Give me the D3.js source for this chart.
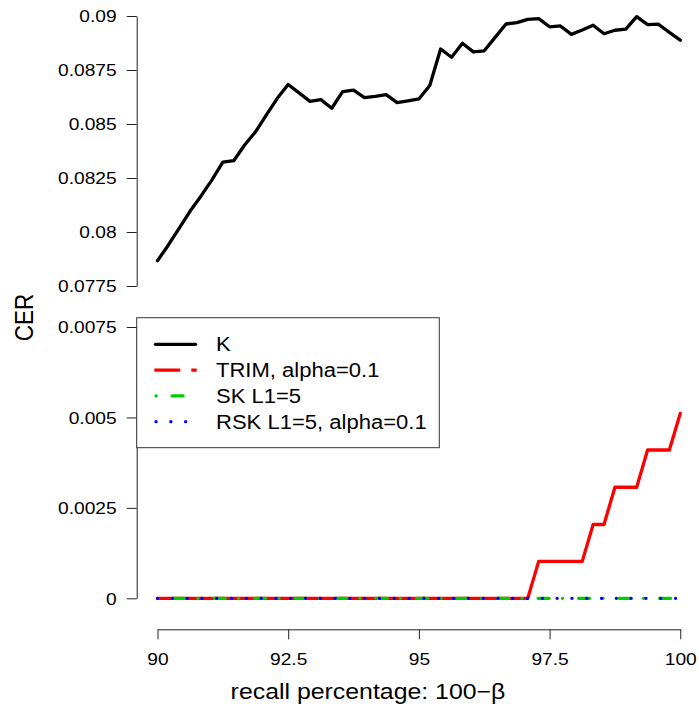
<!DOCTYPE html>
<html>
<head>
<meta charset="utf-8">
<script src="https://cdn.jsdelivr.net/npm/d3@7"></script>
<style>
  html, body { margin: 0; padding: 0; background: #fff; }
  svg { display: block; font-family: "Liberation Sans", Arial, Helvetica, sans-serif; }
</style>
</head>
<body>
<svg id="chart" width="699" height="707"></svg>
<script>
// CER vs recall percentage, split y axis (upper band for K, lower band for the robust ones)

const recall = [90, 90.2083, 90.4167, 90.625, 90.8333, 91.0417, 91.25, 91.4583, 91.6667, 91.875,
  92.0833, 92.2917, 92.5, 92.7083, 92.9167, 93.125, 93.3333, 93.5417, 93.75, 93.9583,
  94.1667, 94.375, 94.5833, 94.7917, 95, 95.2083, 95.4167, 95.625, 95.8333, 96.0417,
  96.25, 96.4583, 96.6667, 96.875, 97.0833, 97.2917, 97.5, 97.7083, 97.9167, 98.125,
  98.3333, 98.5417, 98.75, 98.9583, 99.1667, 99.375, 99.5833, 99.7917, 100];

const cerK = [0.07867, 0.07940, 0.08018, 0.08097, 0.08167, 0.08241, 0.08323, 0.08330, 0.08403, 0.08464,
  0.08542, 0.08619, 0.08683, 0.08644, 0.08605, 0.08613, 0.08573, 0.08650, 0.08657, 0.08622,
  0.08628, 0.08636, 0.08599, 0.08607, 0.08616, 0.08678, 0.08847, 0.08809, 0.08874, 0.08834,
  0.08839, 0.08901, 0.08963, 0.08969, 0.08984, 0.08988, 0.08950, 0.08954, 0.08915, 0.08935,
  0.08957, 0.08918, 0.08934, 0.08939, 0.08997, 0.08960, 0.08962, 0.08924, 0.08888];

const cerTrim = [0, 0, 0, 0, 0, 0, 0, 0, 0, 0,
  0, 0, 0, 0, 0, 0, 0, 0, 0, 0,
  0, 0, 0, 0, 0, 0, 0, 0, 0, 0,
  0, 0, 0, 0, 0, 0.00102, 0.00102, 0.00102, 0.00102, 0.00102,
  0.00204, 0.00204, 0.00307, 0.00307, 0.00307, 0.0041, 0.0041, 0.0041, 0.00511];

const cerSK = [0, 0, 0, 0, 0, 0, 0, 0, 0, 0,
  0, 0, 0, 0, 0, 0, 0, 0, 0, 0,
  0, 0, 0, 0, 0, 0, 0, 0, 0, 0,
  0, 0, 0, 0, 0, 0, 0, 0, 0, 0,
  0, 0, 0, 0, 0, 0, 0, 0, 0];

const cerRSK = [0, 0, 0, 0, 0, 0, 0, 0, 0, 0,
  0, 0, 0, 0, 0, 0, 0, 0, 0, 0,
  0, 0, 0, 0, 0, 0, 0, 0, 0, 0,
  0, 0, 0, 0, 0, 0, 0, 0, 0, 0,
  0, 0, 0, 0, 0, 0, 0, 0, 0];

const xTicks = [90, 92.5, 95, 97.5, 100];
const xTickLabels = ['90', '92.5', '95', '97.5', '100'];
const topTicks = [0.09, 0.0875, 0.085, 0.0825, 0.08, 0.0775];
const topTickLabels = ['0.09', '0.0875', '0.085', '0.0825', '0.08', '0.0775'];
const botTicks = [0.0075, 0.005, 0.0025, 0];
const botTickLabels = ['0.0075', '0.005', '0.0025', '0'];

const legendNames = ['K', 'TRIM, alpha=0.1', 'SK L1=5', 'RSK L1=5, alpha=0.1'];

// the reference image is a bit wider than tall, so text is stretched sideways
const SX = 1.13;

const svg = d3.select('#chart');
const x = d3.scaleLinear().domain([90, 100]).range([157.5, 680.25]);
const yTop = d3.scaleLinear().domain([0.0775, 0.09]).range([286, 16]);
const yBot = d3.scaleLinear().domain([0, 0.0075]).range([598.3, 327]);
const axisX = 136.7;

function styleAxis(g) {
  g.select('.domain').attr('stroke', '#222').attr('stroke-width', 1);
  g.selectAll('.tick line').attr('stroke', '#222').attr('stroke-width', 1);
}

function yAxis(scale, ticks, labels) {
  const g = svg.append('g')
    .attr('transform', `translate(${axisX},0)`)
    .call(d3.axisLeft(scale).tickValues(ticks).tickSize(10).tickSizeOuter(0)
      .tickFormat((d, i) => labels[i]));
  styleAxis(g);
  g.selectAll('.tick text')
    .attr('x', null).attr('dy', '0.35em')
    .attr('transform', `translate(-20,0) scale(${SX},1)`)
    .attr('fill', '#000').attr('font-size', 17)
    .attr('font-family', '"Liberation Sans", Arial, sans-serif')
    .attr('text-anchor', 'end');
}

yAxis(yTop, topTicks, topTickLabels);
yAxis(yBot, botTicks, botTickLabels);

const gx = svg.append('g')
  .attr('transform', 'translate(0,629.3)')
  .call(d3.axisBottom(x).tickValues(xTicks).tickSize(10).tickSizeOuter(0)
    .tickFormat((d, i) => xTickLabels[i]));
styleAxis(gx);
gx.selectAll('.tick text')
  .attr('y', null).attr('dy', '0.35em')
  .attr('transform', `translate(0,30) scale(${SX},1)`)
  .attr('fill', '#000').attr('font-size', 17)
  .attr('font-family', '"Liberation Sans", Arial, sans-serif');

// lines
const idx = d3.range(recall.length);
const lineTop = d3.line().x(i => x(recall[i])).y(i => yTop(cerK[i]));
const lineBot = arr => d3.line().x(i => x(recall[i])).y(i => yBot(arr[i]))(idx);

svg.append('path').attr('d', lineTop(idx))
  .attr('fill', 'none').attr('stroke', '#000').attr('stroke-width', 3.3)
  .attr('stroke-linejoin', 'round').attr('stroke-linecap', 'round');

svg.append('path').attr('d', lineBot(cerTrim))
  .attr('fill', 'none').attr('stroke', '#ff0000').attr('stroke-width', 3.3)
  .attr('stroke-linejoin', 'round').attr('stroke-linecap', 'round');

svg.append('path').attr('d', lineBot(cerSK))
  .attr('fill', 'none').attr('stroke', '#00cd00').attr('stroke-width', 3.3)
  .attr('stroke-linecap', 'round').attr('stroke-dasharray', '0.1,16,11,13.4');

svg.append('path').attr('d', lineBot(cerRSK))
  .attr('fill', 'none').attr('stroke', '#0000ff').attr('stroke-width', 3.3)
  .attr('stroke-linecap', 'round').attr('stroke-dasharray', '0.1,14.7');

// legend
const leg = svg.append('g');
leg.append('rect')
  .attr('x', 136.7).attr('y', 317.7).attr('width', 302.6).attr('height', 130)
  .attr('fill', '#fff').attr('stroke', '#333').attr('stroke-width', 1);

const legStyles = [
  { color: '#000', dash: null, cap: 'round', x0: 155.5, x1: 195.5 },
  { color: '#ff0000', dash: '26,11', cap: 'butt', x0: 154.3, x1: 196.7 },
  { color: '#00cd00', dash: '0.1,16,11,13.4', cap: 'round', x0: 156, x1: 194 },
  { color: '#0000ff', dash: '0.1,14.7', cap: 'round', x0: 156, x1: 194 }
];
const rowY = d3.scaleLinear().domain([0, 3]).range([344.3, 421.7]);

legendNames.forEach((name, i) => {
  const s = legStyles[i];
  leg.append('line')
    .attr('x1', s.x0).attr('x2', s.x1).attr('y1', rowY(i)).attr('y2', rowY(i))
    .attr('stroke', s.color).attr('stroke-width', 3.3)
    .attr('stroke-linecap', s.cap)
    .attr('stroke-dasharray', s.dash);
  leg.append('text')
    .attr('transform', `translate(216,${rowY(i)}) scale(${SX},1)`)
    .attr('dy', '0.35em').attr('font-size', 19.5).attr('fill', '#000')
    .text(name);
});

// axis titles
svg.append('text')
  .attr('transform', `translate(368,699) scale(${SX},1)`)
  .attr('text-anchor', 'middle').attr('font-size', 22).attr('fill', '#000')
  .text('recall percentage: 100\u2212\u03b2');

svg.append('text')
  .attr('transform', `translate(33,317.5) scale(${SX},1) rotate(-90)`)
  .attr('text-anchor', 'middle').attr('font-size', 22.5).attr('fill', '#000')
  .text('CER');
</script>
</body>
</html>
